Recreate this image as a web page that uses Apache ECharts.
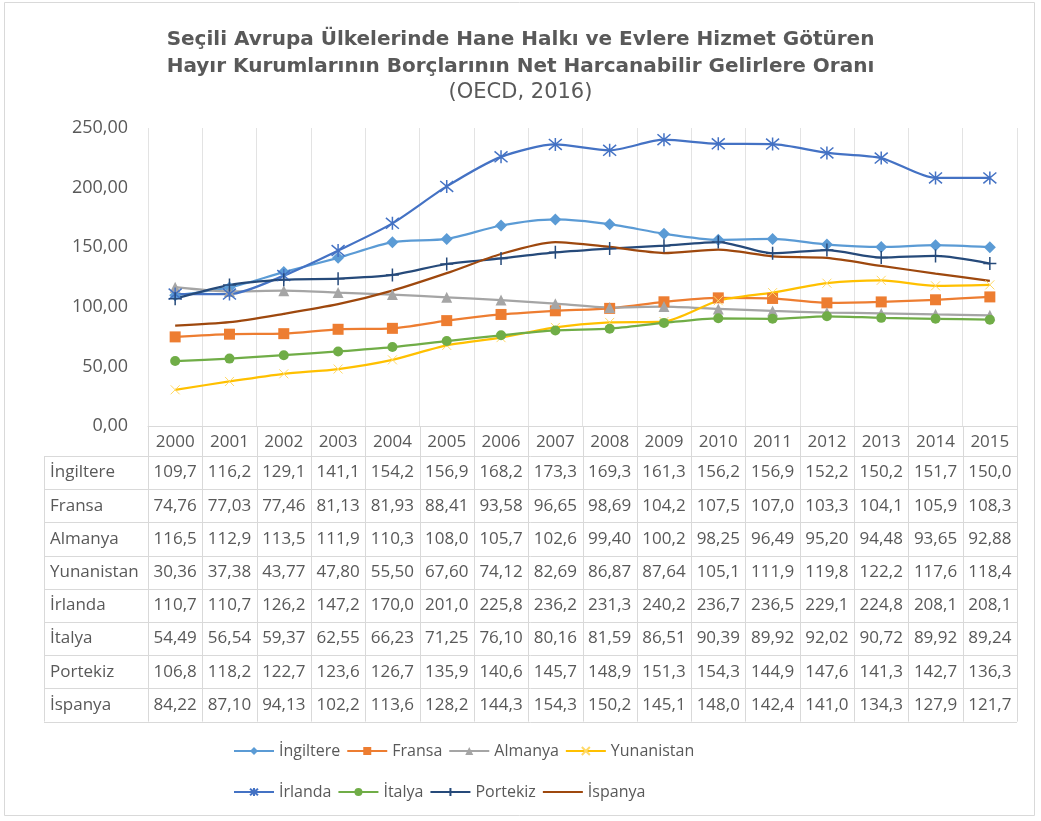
<!DOCTYPE html>
<html>
<head>
<meta charset="utf-8">
<script src="https://cdn.jsdelivr.net/npm/echarts@6/dist/echarts.min.js"></script>
<style>
html, body { margin: 0; padding: 0; background: #fff; }
#chart { width: 1041px; height: 821px; }
</style>
</head>
<body>
<div id="chart"></div>
<script>
// yillar
var years = ['2000', '2001', '2002', '2003', '2004', '2005', '2006', '2007',
    '2008', '2009', '2010', '2011', '2012', '2013', '2014', '2015'];
var yTicks = [0, 50, 100, 150, 200, 250];

var ingiltere = [109.7, 116.2, 129.1, 141.1, 154.2, 156.9, 168.2, 173.3, 169.3, 161.3, 156.2, 156.9, 152.2, 150.2, 151.7, 150.0];
var fransa = [74.76, 77.03, 77.46, 81.13, 81.93, 88.41, 93.58, 96.65, 98.69, 104.2, 107.5, 107.0, 103.3, 104.1, 105.9, 108.3];
var almanya = [116.5, 112.9, 113.5, 111.9, 110.3, 108.0, 105.7, 102.6, 99.40, 100.2, 98.25, 96.49, 95.20, 94.48, 93.65, 92.88];
var yunanistan = [30.36, 37.38, 43.77, 47.80, 55.50, 67.60, 74.12, 82.69, 86.87, 87.64, 105.1, 111.9, 119.8, 122.2, 117.6, 118.4];
var irlanda = [110.7, 110.7, 126.2, 147.2, 170.0, 201.0, 225.8, 236.2, 231.3, 240.2, 236.7, 236.5, 229.1, 224.8, 208.1, 208.1];
var italya = [54.49, 56.54, 59.37, 62.55, 66.23, 71.25, 76.10, 80.16, 81.59, 86.51, 90.39, 89.92, 92.02, 90.72, 89.92, 89.24];
var portekiz = [106.8, 118.2, 122.7, 123.6, 126.7, 135.9, 140.6, 145.7, 148.9, 151.3, 154.3, 144.9, 147.6, 141.3, 142.7, 136.3];
var ispanya = [84.22, 87.10, 94.13, 102.2, 113.6, 128.2, 144.3, 154.3, 150.2, 145.1, 148.0, 142.4, 141.0, 134.3, 127.9, 121.7];

var seriesNames = ['İngiltere', 'Fransa', 'Almanya', 'Yunanistan', 'İrlanda', 'İtalya', 'Portekiz', 'İspanya'];
var seriesData = [ingiltere, fransa, almanya, yunanistan, irlanda, italya, portekiz, ispanya];

var FONT = '"Open Sans", "Noto Sans", sans-serif';
var TITLE_FONT = '"DejaVu Sans", sans-serif';
var TXT = '#595959';

// excel tarzi isaretler
var styles = [
    {color: '#5B9BD5', symbol: 'diamond', size: 12},
    {color: '#ED7D31', symbol: 'rect', size: 11},
    {color: '#A5A5A5', symbol: 'triangle', size: 11},
    {color: '#FFC000', symbol: 'path://M0,0L10,10M10,0L0,10', size: 9, stroke: 1, markColor: '#FFD966'},
    {color: '#4472C4', symbol: 'path://M0,0L10,10M10,0L0,10M5,-1L5,11', size: 13, stroke: 1.5},
    {color: '#70AD47', symbol: 'circle', size: 10},
    {color: '#264A7A', symbol: 'path://M5,0L5,10M0,5L10,5', size: 13, stroke: 1.5},
    {color: '#9E480E', symbol: 'none', size: 0}
];

function fmt(v) {
    return (v >= 100 ? v.toFixed(1) : v.toFixed(2)).replace('.', ',');
}

var GL = 148, GR = 1017, GT = 128, GB = 426;

var chart = echarts.init(document.getElementById('chart'));

var series = seriesNames.map(function (name, i) {
    var s = styles[i];
    var mc = s.markColor || s.color;
    return {
        name: name,
        type: 'line',
        data: seriesData[i],
        smooth: 0.25,
        symbol: s.symbol,
        symbolSize: s.size,
        lineStyle: {color: s.color, width: 2.25},
        itemStyle: s.stroke ? {color: mc, borderColor: mc, borderWidth: s.stroke} : {color: s.color},
        emphasis: {disabled: true}
    };
});

var legendBase = {
    left: 228,
    itemWidth: 40,
    itemHeight: 10,
    itemGap: 6,
    textStyle: {color: TXT, fontSize: 16, fontFamily: FONT, width: 70},
    selectedMode: false
};

// ispanya isaretsiz
var legendRow2 = seriesNames.slice(4).map(function (n) {
    return n === 'İspanya' ? {name: n, itemStyle: {opacity: 0}} : n;
});

var option = {
    backgroundColor: '#fff',
    animation: false,
    title: [
        {
            text: 'Seçili Avrupa Ülkelerinde Hane Halkı ve Evlere Hizmet Götüren\nHayır Kurumlarının Borçlarının Net Harcanabilir Gelirlere Oranı',
            left: 'center',
            top: 21,
            textStyle: {color: TXT, fontSize: 20, fontWeight: 'bold', fontFamily: TITLE_FONT, lineHeight: 27}
        },
        {
            text: '(OECD, 2016)',
            left: 'center',
            top: 77,
            textStyle: {color: TXT, fontSize: 21, fontWeight: 'normal', fontFamily: TITLE_FONT}
        }
    ],
    legend: [
        Object.assign({top: 738, data: seriesNames.slice(0, 4)}, legendBase),
        Object.assign({top: 779, data: legendRow2}, legendBase)
    ],
    grid: {left: GL, right: 1041 - GR, top: GT, bottom: 821 - GB, containLabel: false},
    xAxis: {
        type: 'category',
        data: years,
        boundaryGap: true,
        axisLine: {show: true, lineStyle: {color: '#d9d9d9'}},
        axisTick: {show: false},
        axisLabel: {color: TXT, fontSize: 17, fontFamily: FONT, margin: 8, interval: 0},
        splitLine: {show: true, interval: 0, lineStyle: {color: '#e3e3e3'}}
    },
    yAxis: {
        type: 'value',
        min: yTicks[0],
        max: yTicks[yTicks.length - 1],
        interval: 50,
        axisLine: {show: false},
        axisTick: {show: false},
        splitLine: {show: false},
        axisLabel: {
            color: TXT, fontSize: 18, fontFamily: FONT, margin: 20,
            formatter: function (v) { return v.toFixed(2).replace('.', ','); }
        }
    },
    series: series
};

chart.setOption(option);

// veri tablosu
function buildTable() {
    var els = [];
    var rowTop = 456, rowH = 33.2, labelLeft = 44;
    var nRows = seriesNames.length;
    var bottom = rowTop + rowH * nRows;
    var lineStyle = {stroke: '#d9d9d9', lineWidth: 1};
    var colW = (GR - GL) / years.length;

    // yatay cizgiler
    els.push({type: 'line', silent: true, shape: {x1: GL, y1: GB + 0.5, x2: GR, y2: GB + 0.5}, style: lineStyle});
    for (var r = 0; r <= nRows; r++) {
        var y = Math.round(rowTop + r * rowH) + 0.5;
        els.push({type: 'line', silent: true, shape: {x1: labelLeft, y1: y, x2: GR, y2: y}, style: lineStyle});
    }
    // dikey cizgiler
    els.push({type: 'line', silent: true, shape: {x1: labelLeft + 0.5, y1: rowTop, x2: labelLeft + 0.5, y2: bottom}, style: lineStyle});
    for (var c = 0; c <= years.length; c++) {
        var x = Math.round(GL + c * colW) + 0.5;
        els.push({type: 'line', silent: true, shape: {x1: x, y1: GB, x2: x, y2: bottom}, style: lineStyle});
    }

    seriesNames.forEach(function (name, r) {
        var cy = rowTop + rowH * (r + 0.5);
        els.push({
            type: 'text', silent: true, x: labelLeft + 6, y: cy,
            style: {text: name, fill: TXT, font: '17px ' + FONT, align: 'left', verticalAlign: 'middle', textAlign: 'left', textVerticalAlign: 'middle'}
        });
        seriesData[r].forEach(function (v, i) {
            var cx = chart.convertToPixel({xAxisIndex: 0}, i);
            els.push({
                type: 'text', silent: true, x: cx, y: cy,
                style: {text: fmt(v), fill: TXT, font: '17px ' + FONT, align: 'center', verticalAlign: 'middle', textAlign: 'center', textVerticalAlign: 'middle'}
            });
        });
    });

    // dis cerceve
    els.push({
        type: 'rect', silent: true,
        shape: {x: 4.5, y: 2.5, width: 1030, height: 813},
        style: {fill: 'none', stroke: '#d9d9d9', lineWidth: 1}
    });

    chart.setOption({graphic: els});
}

buildTable();
</script>
</body>
</html>
